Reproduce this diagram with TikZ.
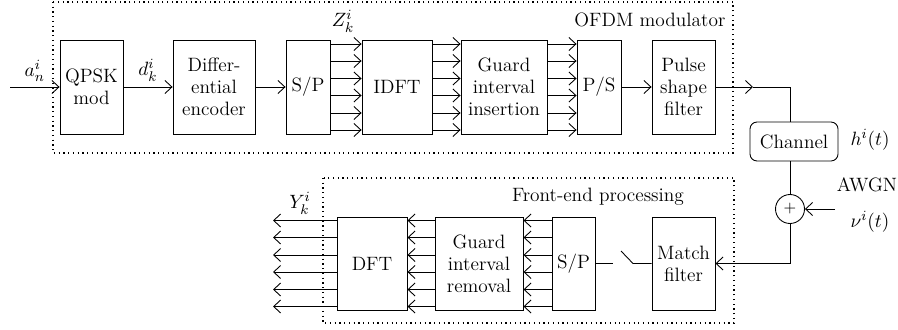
\documentclass[tikz,border=0pt]{standalone}
\usepackage{amsmath}
\usepackage{tikz}
\usetikzlibrary{arrows.meta,calc}

\begin{document}
\begin{tikzpicture}[font=\fontsize{11}{12.5}\selectfont]
    % Styles for boxes and lines
    \tikzset{
      box/.style={rectangle, draw=black, line width=0.5pt, align=center, minimum height=1.88cm, inner sep=1pt},
      arrow/.style={line width=0.5pt,-{Straight Barb[length=1.4mm,width=2.6mm]}},
      wire/.style={line width=0.5pt},
      frame/.style={dotted, line width=0.7pt},
      lbl/.style={inner sep=1pt}
    }
    \useasboundingbox (0,0) rectangle (17.96,-6.58);

    % Dotted frames
    \draw[frame] (1.06,-0.04) rectangle (14.66,-3.06);
    \draw[frame] (6.46,-3.56) rectangle (14.68,-6.46);
    \node[lbl, anchor=east] (ofdm) at (14.55,-0.40) {OFDM modulator};
    \node[lbl] (front) at (11.96,-3.94) {Front-end processing};

    % Nodes with explicit coordinates
    \node[box, minimum width=1.26cm] (QPSK) at (1.83,-1.74) {QPSK\\mod};
    \node[box, minimum width=1.64cm] (diff) at (4.28,-1.74) {Differ-\\ential\\encoder};
    \node[box, minimum width=0.88cm] (SPa) at (6.16,-1.74) {S/P};
    \node[box, minimum width=1.40cm] (IDFT) at (7.94,-1.74) {IDFT};
    \node[box, minimum width=1.72cm] (gins) at (10.08,-1.74) {Guard\\interval\\insertion};
    \node[box, minimum width=0.88cm] (PS) at (11.98,-1.74) {P/S};
    \node[box, minimum width=1.26cm] (pulse) at (13.67,-1.74) {Pulse\\shape\\filter};

    \node[draw, rounded corners=4pt, line width=0.5pt, minimum width=1.76cm, minimum height=0.78cm] (channel) at (15.88,-2.83) {Channel};
    \node[circle, draw, line width=0.5pt, minimum size=0.58cm, inner sep=0pt] (sum) at (15.80,-4.18) {\small$+$};

    \node[box, minimum width=1.26cm, minimum height=1.86cm] (match) at (13.67,-5.27) {Match\\filter};
    \node[box, minimum width=0.86cm, minimum height=1.86cm] (SPb) at (11.47,-5.27) {S/P};
    \node[box, minimum width=1.76cm, minimum height=1.86cm] (grem) at (9.58,-5.27) {Guard\\interval\\removal};
    \node[box, minimum width=1.40cm, minimum height=1.86cm] (DFT) at (7.44,-5.27) {DFT};

    % Labels
    \node[lbl] (Z) at (6.86,-0.42) {$Z_k^i$};
    \node[lbl] (Y) at (6.00,-4.06) {$Y_k^i$};
    \node[lbl] (h) at (17.40,-2.80) {$h^i(t)$};
    \node[lbl] (awgn) at (17.34,-3.70) {AWGN};
    \node[lbl] (nu) at (17.40,-4.44) {$\nu^i(t)$};

    % Free ends
    \coordinate (in) at (0.20,-1.74);
    \coordinate (tap) at (15.06,-1.74);
    \coordinate (noise) at (16.70,-4.18);
    \coordinate (out) at (5.46,-5.27);
    \coordinate (sw1) at (12.26,-5.27);
    \coordinate (sw2) at (12.42,-5.02);
    \coordinate (sw3) at (12.66,-5.27);

    % Arrows
    \draw[arrow] (in) -- node[lbl, above=2pt] {$a_n^i$} (QPSK);
    \draw[arrow] (QPSK) -- node[lbl, above=2pt] {$d_k^i$} (diff);
    \draw[arrow] (diff) -- (SPa);
    \foreach \dy in {-0.86,-0.52,-0.17,0.17,0.52,0.86} {
      \draw[arrow] ([yshift=\dy cm]SPa.east) -- ([yshift=\dy cm]IDFT.west);
      \draw[arrow] ([yshift=\dy cm]IDFT.east) -- ([yshift=\dy cm]gins.west);
      \draw[arrow] ([yshift=\dy cm]gins.east) -- ([yshift=\dy cm]PS.west);
      \draw[arrow] ([yshift=\dy cm]SPb.west) -- ([yshift=\dy cm]grem.east);
      \draw[arrow] ([yshift=\dy cm]grem.west) -- ([yshift=\dy cm]DFT.east);
      \draw[arrow] ([yshift=\dy cm]DFT.west) -- ([yshift=\dy cm]out);
    }
    \draw[arrow] (PS) -- (pulse);
    \draw[arrow] (pulse.east) -- (tap);
    \draw[wire] (tap) -| (sum.north |- channel.north);
    \draw[wire] (sum.north |- channel.south) -- (sum.north);
    \draw[arrow] (noise) -- (sum.east);
    \draw[arrow] (sum.south) |- (match.east);
    \draw[wire] (SPb.east) -- (sw1);
    \draw[wire] (sw2) -- (sw3) -- (match.west);

\end{tikzpicture}
\end{document}
